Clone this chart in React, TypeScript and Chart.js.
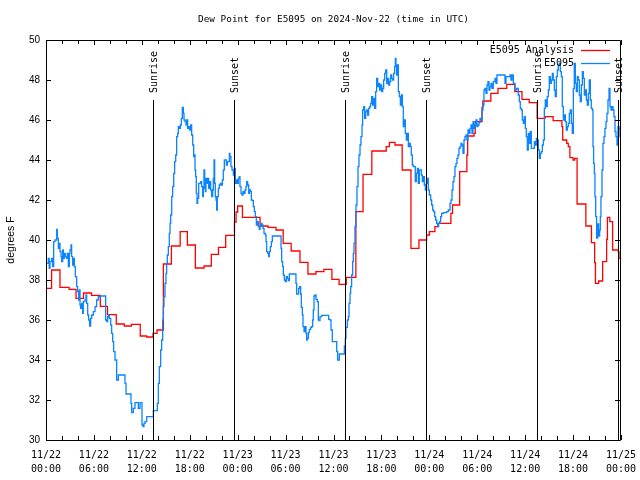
import React, { useEffect, useRef } from "react";
import { Chart, registerables } from "chart.js";

Chart.register(...registerables);

const TITLE = "Dew Point for E5095 on 2024-Nov-22 (time in UTC)";
const Y_LABEL = "degrees F";
const SERIES_NAMES = ["E5095 Analysis", "E5095"];
const SERIES_COLORS = ["#ff0000", "#0a84ff"];

const X_TICK_HOURS = [0, 6, 12, 18, 24, 30, 36, 42, 48, 54, 60, 66, 72];
const X_TICK_DATES = ["11/22", "11/22", "11/22", "11/22", "11/23", "11/23", "11/23", "11/23", "11/24", "11/24", "11/24", "11/24", "11/25"];
const X_TICK_TIMES = ["00:00", "06:00", "12:00", "18:00", "00:00", "06:00", "12:00", "18:00", "00:00", "06:00", "12:00", "18:00", "00:00"];
const Y_MIN = 30;
const Y_MAX = 50;
const Y_STEP = 2;

const EVENT_HOURS = [13.44, 23.58, 37.48, 47.62, 61.52, 71.66];
const EVENT_LABELS = ["Sunrise", "Sunset", "Sunrise", "Sunset", "Sunrise", "Sunset"];
const EVENT_TOP_VALUE = 47;

// E5095 Analysis (hour since 11/22 00:00 UTC, value in degrees F), step-hold
const redHours = [0, 0.7, 1.75, 2.9, 3.76, 4.7, 5.7, 6.8, 7.7, 8.8, 9.8, 10.7, 11.8, 12.6, 13.4, 13.9, 14.7, 15.7, 16.8, 17.7, 18.7, 19.8, 20.7, 21.6, 22.5, 23.6, 23.8, 24.0, 24.6, 26.8, 27.8, 28.8, 29.7, 30.7, 31.8, 32.8, 33.8, 34.8, 35.8, 36.7, 37.6, 38.8, 39.7, 40.8, 42.6, 43.0, 43.7, 44.6, 45.7, 46.7, 47.66, 48.0, 48.7, 49.1, 50.7, 50.9, 51.8, 52.7, 52.8, 53.6, 53.75, 54.6, 54.7, 55.7, 56.6, 57.7, 58.7, 59.6, 60.5, 61.5, 62.5, 63.5, 64.6, 64.7, 65.2, 65.4, 65.6, 66.0, 66.2, 66.5, 67.6, 68.3, 68.7, 68.8, 69.2, 69.7, 70.2, 70.3, 70.6, 70.95, 71.66, 71.75, 72];
const redValues = [37.58, 38.5, 37.63, 37.53, 37.08, 37.35, 37.23, 36.68, 36.27, 35.8, 35.7, 35.78, 35.2, 35.15, 35.33, 35.5, 38.8, 39.7, 40.42, 39.75, 38.6, 38.7, 39.28, 39.63, 40.23, 40.9, 41.4, 41.7, 41.13, 40.7, 40.63, 40.5, 39.83, 39.45, 38.88, 38.3, 38.42, 38.53, 38.03, 37.78, 38.13, 41.42, 43.28, 44.45, 44.67, 44.88, 44.75, 43.5, 39.58, 40.0, 40.25, 40.42, 40.67, 40.83, 41.33, 41.75, 43.42, 44.25, 45.2, 45.33, 45.92, 46.63, 46.95, 47.33, 47.58, 47.78, 47.42, 47.03, 46.87, 46.08, 46.17, 45.97, 45.67, 45.0, 44.83, 44.67, 44.12, 44.0, 44.08, 41.8, 40.7, 39.87, 38.87, 37.83, 37.95, 38.92, 40.03, 41.13, 40.92, 39.5, 39.42, 39.08, 39.08];

// E5095 observations (hour, degrees F), step-hold
const blueHours = [0, 0.29, 0.4, 0.5, 0.71, 0.83, 0.96, 1.13, 1.34, 1.42, 1.55, 1.67, 1.75, 1.88, 1.96, 2.09, 2.17, 2.3, 2.42, 2.59, 2.67, 2.8, 2.92, 3.0, 3.13, 3.21, 3.34, 3.42, 3.55, 3.67, 3.84, 3.96, 4.09, 4.17, 4.26, 4.34, 4.47, 4.59, 4.67, 4.88, 5.01, 5.09, 5.22, 5.34, 5.47, 5.59, 5.72, 5.93, 6.14, 6.34, 6.55, 6.76, 7.47, 7.6, 7.72, 7.85, 7.93, 8.1, 8.22, 8.35, 8.47, 8.64, 8.85, 9.06, 9.89, 10.02, 10.64, 10.73, 10.93, 11.14, 11.56, 11.77, 12.02, 12.15, 12.27, 12.4, 12.61, 13.44, 13.94, 14.07, 14.19, 14.36, 14.48, 14.61, 14.69, 14.77, 14.9, 15.02, 15.11, 15.19, 15.32, 15.44, 15.53, 15.61, 15.74, 15.86, 15.99, 16.11, 16.24, 16.36, 16.49, 16.57, 16.7, 16.82, 16.95, 17.07, 17.2, 17.28, 17.41, 17.53, 17.61, 17.74, 17.86, 17.99, 18.11, 18.24, 18.37, 18.49, 18.57, 18.66, 18.74, 18.82, 18.91, 18.99, 19.12, 19.37, 19.49, 19.62, 19.7, 19.78, 19.87, 19.95, 20.03, 20.12, 20.24, 20.37, 20.49, 20.62, 20.74, 20.87, 20.95, 21.04, 21.12, 21.2, 21.29, 21.37, 21.45, 21.58, 21.7, 21.83, 21.95, 22.08, 22.2, 22.33, 22.58, 22.71, 22.96, 23.04, 23.16, 23.29, 23.46, 23.58, 23.71, 23.83, 23.96, 24.08, 24.21, 24.29, 24.42, 24.54, 24.67, 24.79, 24.92, 25.04, 25.13, 25.25, 25.38, 25.46, 25.59, 25.71, 25.84, 25.96, 26.09, 26.21, 26.34, 26.46, 26.59, 26.71, 26.8, 26.92, 27.05, 27.17, 27.3, 27.46, 27.55, 27.63, 27.76, 27.88, 27.97, 28.09, 28.22, 28.34, 29.43, 29.51, 29.63, 29.72, 29.84, 29.97, 30.09, 30.22, 30.34, 30.47, 31.3, 31.39, 31.64, 31.76, 31.89, 31.97, 32.1, 32.18, 32.31, 32.43, 32.56, 32.64, 32.72, 32.85, 32.97, 33.14, 33.27, 33.39, 33.47, 33.56, 33.68, 33.81, 33.97, 34.1, 34.23, 34.31, 34.52, 35.39, 35.56, 35.69, 35.85, 36.4, 36.52, 36.73, 37.36, 37.48, 37.56, 37.73, 37.86, 37.94, 38.07, 38.15, 38.27, 38.4, 38.48, 38.57, 38.69, 38.82, 38.94, 39.07, 39.19, 39.32, 39.44, 39.57, 39.65, 39.78, 39.9, 40.03, 40.15, 40.28, 40.4, 40.53, 40.65, 40.78, 40.9, 41.03, 41.15, 41.28, 41.4, 41.53, 41.65, 41.78, 41.9, 42.03, 42.16, 42.28, 42.41, 42.53, 42.66, 42.78, 42.91, 43.03, 43.16, 43.28, 43.41, 43.53, 43.66, 43.74, 43.82, 43.91, 43.99, 44.12, 44.24, 44.37, 44.49, 44.62, 44.74, 44.87, 44.99, 45.12, 45.24, 45.37, 45.49, 45.62, 45.74, 45.87, 45.99, 46.24, 46.37, 46.5, 46.62, 46.75, 47.0, 47.12, 47.25, 47.37, 47.5, 47.62, 47.75, 47.87, 48.0, 48.17, 48.29, 48.42, 48.54, 48.67, 48.79, 48.92, 49.04, 49.17, 49.29, 49.42, 49.54, 49.75, 50.17, 50.38, 50.59, 50.71, 50.84, 50.96, 51.09, 51.21, 51.34, 51.46, 51.59, 51.71, 51.84, 51.96, 52.09, 52.21, 52.34, 52.46, 52.59, 52.71, 52.84, 52.96, 53.09, 53.22, 53.34, 53.47, 53.59, 53.72, 53.84, 53.97, 54.09, 54.22, 54.34, 54.47, 54.59, 54.72, 54.84, 54.97, 55.09, 55.22, 55.34, 55.47, 55.59, 55.72, 55.84, 56.01, 56.22, 56.35, 56.47, 57.47, 57.6, 58.1, 58.22, 58.35, 58.52, 58.72, 58.93, 59.14, 59.27, 59.39, 59.52, 59.64, 59.77, 59.89, 60.02, 60.14, 60.27, 60.39, 60.52, 60.64, 60.77, 61.15, 61.27, 61.4, 61.52, 61.65, 61.77, 61.9, 62.02, 62.15, 62.27, 62.4, 62.52, 62.65, 62.77, 62.9, 63.02, 63.15, 63.27, 63.4, 63.52, 63.65, 63.77, 63.9, 64.03, 64.15, 64.28, 64.4, 64.53, 64.65, 64.78, 64.9, 65.03, 65.15, 65.28, 65.4, 65.53, 65.65, 65.78, 65.9, 66.03, 66.15, 66.28, 66.4, 66.53, 66.65, 66.78, 66.9, 67.03, 67.16, 67.28, 67.41, 67.53, 67.66, 67.78, 67.91, 68.03, 68.16, 68.28, 68.41, 68.49, 68.57, 68.66, 68.74, 68.83, 68.95, 69.08, 69.2, 69.33, 69.41, 69.49, 69.62, 69.74, 69.87, 69.99, 70.12, 70.24, 70.37, 70.5, 70.62, 70.75, 70.87, 71.0, 71.12, 71.25, 71.37, 71.5, 71.62, 71.75, 71.87, 72.0];
const blueValues = [38.83, 39.08, 38.58, 38.92, 39.08, 38.67, 39.92, 40.0, 40.53, 40.08, 39.58, 39.83, 39.42, 39.17, 38.92, 39.5, 39.08, 39.33, 39.17, 39.08, 39.33, 38.67, 39.33, 39.5, 39.75, 39.17, 38.75, 39.08, 38.67, 38.17, 37.67, 37.42, 37.0, 37.5, 36.75, 36.58, 36.83, 36.33, 36.92, 37.0, 37.25, 36.83, 36.25, 36.0, 35.7, 36.08, 36.25, 36.42, 36.67, 37.0, 37.17, 37.2, 36.0, 35.92, 36.17, 36.25, 36.08, 35.75, 35.33, 34.92, 34.42, 34.0, 33.0, 33.25, 32.83, 32.3, 31.83, 31.37, 31.58, 31.87, 31.58, 31.87, 30.75, 30.67, 30.83, 30.92, 31.17, 31.47, 31.83, 32.83, 33.67, 34.5, 35.0, 36.0, 36.67, 37.17, 37.83, 38.33, 38.83, 39.25, 39.67, 40.33, 40.83, 41.25, 42.17, 42.67, 43.33, 43.92, 44.25, 45.17, 45.33, 45.67, 45.58, 45.75, 46.08, 46.63, 46.33, 46.0, 45.92, 45.75, 46.0, 45.58, 45.67, 45.5, 45.75, 45.25, 44.75, 44.17, 44.25, 43.5, 43.17, 42.33, 41.83, 42.08, 42.83, 42.92, 42.67, 42.17, 42.58, 43.5, 43.0, 42.42, 43.08, 42.83, 43.08, 42.58, 42.92, 42.5, 42.17, 42.5, 43.08, 44.0, 42.83, 42.17, 42.0, 41.5, 42.17, 42.58, 42.75, 42.83, 42.75, 43.0, 43.5, 44.0, 43.75, 43.92, 44.33, 44.17, 43.67, 43.5, 43.25, 43.58, 42.83, 43.0, 42.83, 43.08, 43.17, 42.67, 42.33, 42.25, 42.42, 42.33, 42.5, 42.67, 42.92, 42.75, 42.33, 42.5, 42.42, 42.0, 41.97, 41.67, 41.42, 41.17, 40.75, 40.92, 40.67, 40.53, 40.67, 40.83, 40.75, 40.58, 40.33, 40.25, 39.92, 39.42, 39.33, 39.17, 39.42, 39.67, 39.92, 40.2, 39.58, 38.92, 38.67, 38.25, 38.0, 37.92, 38.17, 38.08, 37.97, 38.3, 37.83, 37.3, 37.58, 37.67, 37.3, 36.63, 36.25, 35.67, 35.42, 35.67, 35.33, 35.0, 35.08, 35.37, 35.53, 35.63, 35.67, 36.0, 36.5, 37.2, 37.25, 37.03, 36.92, 36.0, 35.97, 36.17, 36.23, 36.03, 36.0, 35.5, 34.92, 34.42, 34.0, 34.3, 34.7, 35.08, 35.63, 36.0, 36.17, 36.83, 37.33, 37.67, 38.25, 38.92, 39.33, 39.83, 40.67, 41.75, 42.67, 43.67, 44.25, 44.75, 45.17, 45.75, 46.5, 46.67, 46.08, 46.42, 46.5, 46.25, 46.58, 46.67, 46.83, 47.17, 46.75, 47.08, 46.58, 47.42, 48.08, 47.67, 47.83, 47.5, 47.75, 47.42, 47.58, 48.0, 48.33, 48.5, 47.83, 48.08, 47.75, 47.92, 48.25, 48.08, 48.0, 48.33, 48.67, 49.08, 48.67, 48.25, 48.75, 47.42, 47.17, 46.75, 47.25, 46.67, 45.67, 46.0, 45.33, 45.0, 45.33, 44.67, 44.83, 44.67, 44.25, 43.75, 43.67, 42.92, 43.33, 43.58, 42.83, 43.5, 43.25, 42.92, 43.17, 42.75, 42.5, 42.83, 43.08, 42.5, 42.25, 42.0, 41.75, 41.5, 41.42, 41.17, 41.0, 40.83, 40.67, 40.83, 40.92, 41.17, 41.33, 41.37, 41.42, 41.5, 41.83, 42.0, 42.5, 42.92, 43.17, 43.67, 43.83, 44.08, 44.25, 44.58, 44.67, 44.83, 44.75, 44.33, 45.0, 45.17, 45.25, 45.0, 45.5, 45.33, 45.58, 45.75, 45.33, 45.92, 45.58, 45.75, 46.0, 45.67, 45.75, 45.87, 46.08, 46.0, 46.5, 46.75, 47.5, 47.58, 47.33, 47.75, 47.92, 47.5, 47.67, 47.83, 47.58, 47.92, 48.08, 47.83, 48.25, 47.83, 48.17, 48.25, 48.0, 48.25, 47.83, 47.5, 47.58, 47.25, 46.92, 46.58, 46.5, 46.0, 45.83, 46.17, 45.58, 45.17, 44.5, 45.33, 44.83, 45.42, 44.58, 44.92, 44.75, 45.08, 45.0, 44.5, 44.08, 44.33, 44.42, 44.75, 45.0, 46.58, 47.0, 46.67, 47.17, 47.5, 48.17, 47.83, 48.0, 48.33, 48.0, 47.5, 47.17, 48.17, 48.5, 48.75, 48.83, 48.42, 48.17, 46.67, 46.0, 46.25, 45.92, 45.5, 45.67, 45.83, 46.33, 46.5, 45.83, 45.33, 47.58, 48.83, 47.83, 47.42, 48.17, 48.0, 47.25, 46.92, 47.75, 48.42, 48.08, 47.25, 47.5, 47.0, 46.75, 47.33, 48.0, 47.0, 46.58, 46.5, 44.67, 43.83, 43.33, 42.17, 41.17, 40.1, 40.8, 40.2, 40.5, 41.17, 42.17, 43.5, 44.83, 45.17, 45.58, 45.92, 46.33, 47.0, 47.58, 46.67, 46.5, 46.67, 46.5, 46.17, 45.42, 45.17, 44.75, 45.67, 45.58, 45.17, 45.33];

const MONO = "'DejaVu Sans Mono', 'Liberation Mono', monospace";
const SANS = "'Liberation Sans', Arial, sans-serif";

const decorPlugin = {
  id: "gnuplotDecor",
  afterDatasetsDraw(chart: any) {
    const { ctx, chartArea } = chart;
    const xs = chart.scales.x;
    const ys = chart.scales.y;
    const { left, right, top, bottom } = chartArea;
    ctx.save();
    ctx.strokeStyle = "#000";
    ctx.lineWidth = 1;

    // event (sunrise/sunset) lines
    const evTop = ys.getPixelForValue(EVENT_TOP_VALUE);
    EVENT_HOURS.forEach((h, i) => {
      const x = Math.round(xs.getPixelForValue(h)) + 0.5;
      ctx.beginPath();
      ctx.moveTo(x, evTop);
      ctx.lineTo(x, bottom);
      ctx.stroke();
      ctx.save();
      ctx.translate(x + 1, evTop - 7);
      ctx.rotate(-Math.PI / 2);
      ctx.fillStyle = "#000";
      ctx.font = `10px ${MONO}`;
      ctx.textAlign = "left";
      ctx.textBaseline = "middle";
      ctx.fillText(EVENT_LABELS[i], 0, 0);
      ctx.restore();
    });

    // border
    ctx.beginPath();
    ctx.rect(Math.round(left) + 0.5, Math.round(top) + 0.5, Math.round(right - left) - 1, Math.round(bottom - top));
    ctx.stroke();

    // x ticks (every 2 h, inward, top and bottom)
    for (let h = 0; h <= 72; h += 2) {
      const x = Math.round(xs.getPixelForValue(h)) + 0.5;
      const len = h % 6 === 0 ? 5 : 4;
      ctx.beginPath();
      ctx.moveTo(x, bottom);
      ctx.lineTo(x, bottom - len);
      ctx.moveTo(x, top);
      ctx.lineTo(x, top + len);
      ctx.stroke();
    }
    // y ticks (left and right, inward)
    for (let v = Y_MIN; v <= Y_MAX; v += Y_STEP) {
      const y = Math.round(ys.getPixelForValue(v)) + 0.5;
      ctx.beginPath();
      ctx.moveTo(left, y);
      ctx.lineTo(left + 5, y);
      ctx.moveTo(right - 1, y);
      ctx.lineTo(right - 6, y);
      ctx.stroke();
    }

    // legend
    ctx.font = `10px ${MONO}`;
    ctx.textAlign = "right";
    ctx.textBaseline = "middle";
    SERIES_NAMES.forEach((name, i) => {
      const y = top + 10 + i * 13;
      ctx.fillStyle = "#000";
      ctx.fillText(name, right - 47, y);
      ctx.strokeStyle = SERIES_COLORS[i];
      ctx.lineWidth = 1.3;
      ctx.beginPath();
      ctx.moveTo(right - 40, Math.round(y) + 0.5);
      ctx.lineTo(right - 11, Math.round(y) + 0.5);
      ctx.stroke();
    });

    // title
    ctx.fillStyle = "#000";
    ctx.font = `9.4px ${MONO}`;
    ctx.textAlign = "center";
    ctx.textBaseline = "middle";
    ctx.fillText(TITLE, (left + right) / 2, 20);
    ctx.restore();
  },
};

export default function App() {
  const canvasRef = useRef<HTMLCanvasElement | null>(null);

  useEffect(() => {
    if (!canvasRef.current) return;
    const chart = new Chart(canvasRef.current, {
      type: "line",
      data: {
        datasets: [
          {
            label: SERIES_NAMES[0],
            data: redHours.map((h, i) => ({ x: h, y: redValues[i] })),
            borderColor: SERIES_COLORS[0],
            borderWidth: 1.3,
            stepped: true,
            pointRadius: 0,
            fill: false,
            order: 2,
          },
          {
            label: SERIES_NAMES[1],
            data: blueHours.map((h, i) => ({ x: h, y: blueValues[i] })),
            borderColor: SERIES_COLORS[1],
            borderWidth: 1.3,
            stepped: true,
            pointRadius: 0,
            fill: false,
            order: 1,
          },
        ],
      },
      options: {
        animation: false,
        responsive: false,
        maintainAspectRatio: false,
        devicePixelRatio: 1,
        layout: { padding: { left: 0, right: 19, top: 40, bottom: 0 } },
        plugins: {
          legend: { display: false },
          title: { display: false },
          tooltip: { enabled: false },
        },
        scales: {
          x: {
            type: "linear",
            min: 0,
            max: 72,
            afterBuildTicks: (scale: any) => {
              scale.ticks = X_TICK_HOURS.map((v) => ({ value: v }));
            },
            afterFit: (scale: any) => {
              scale.height = 40;
              scale.paddingLeft = 0;
              scale.paddingRight = 0;
            },
            ticks: {
              autoSkip: false,
              maxRotation: 0,
              minRotation: 0,
              padding: 8,
              color: "#000",
              font: { family: MONO, size: 10, lineHeight: 1.44 },
              callback: (value: any) => {
                const i = X_TICK_HOURS.indexOf(Number(value));
                return i >= 0 ? [X_TICK_DATES[i], X_TICK_TIMES[i]] : "";
              },
            },
            grid: { display: false, drawTicks: false },
            border: { display: false },
          },
          y: {
            type: "linear",
            min: Y_MIN,
            max: Y_MAX,
            afterFit: (scale: any) => {
              scale.width = 46;
              scale.paddingTop = 0;
              scale.paddingBottom = 0;
            },
            ticks: {
              stepSize: Y_STEP,
              padding: 6,
              color: "#000",
              font: { family: SANS, size: 10 },
            },
            grid: { display: false, drawTicks: false },
            border: { display: false },
            title: {
              display: true,
              text: Y_LABEL,
              color: "#000",
              font: { family: SANS, size: 10.5 },
              padding: { top: 5, bottom: 0 },
            },
          },
        },
      },
      plugins: [decorPlugin],
    });
    return () => chart.destroy();
  }, []);

  return (
    <div style={{ position: "absolute", left: 0, top: 0, width: 640, height: 480, background: "#fff" }}>
      <canvas ref={canvasRef} width={640} height={480} style={{ display: "block" }} />
    </div>
  );
}
